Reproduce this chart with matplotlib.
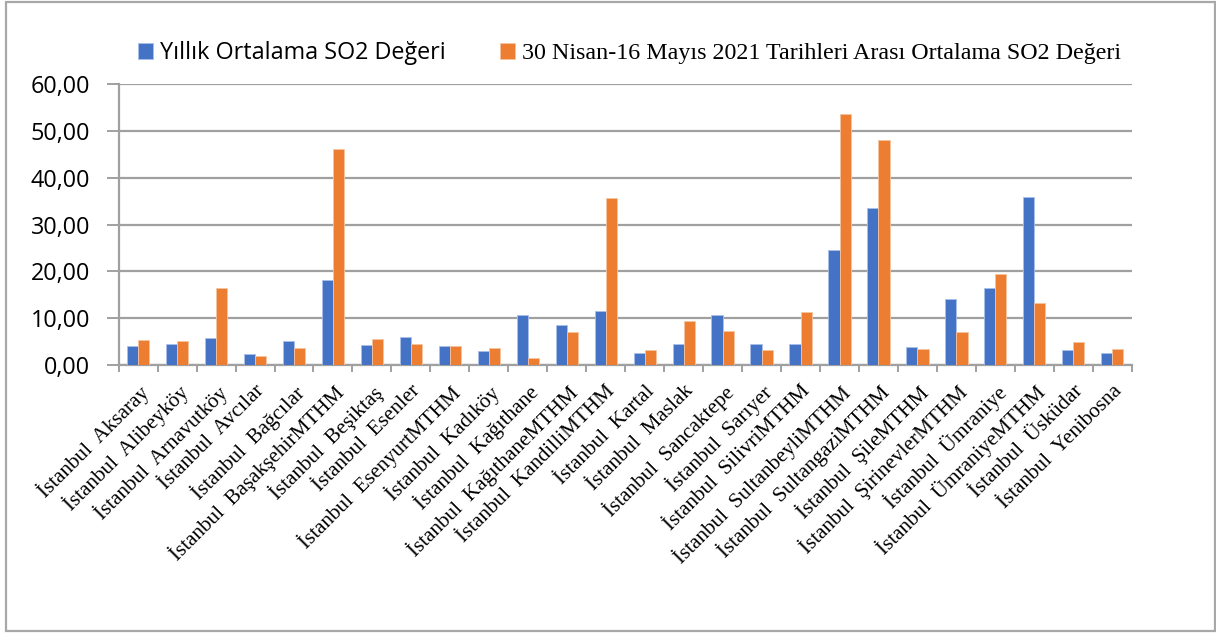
import numpy as np
from matplotlib import pyplot as plt
from matplotlib.patches import Rectangle

stations = [
    "İstanbul  Aksaray", "İstanbul  Alibeyköy", "İstanbul  Arnavutköy",
    "İstanbul  Avcılar", "İstanbul  Bağcılar", "İstanbul  BaşakşehirMTHM",
    "İstanbul  Beşiktaş", "İstanbul  Esenler", "İstanbul  EsenyurtMTHM",
    "İstanbul  Kadıköy", "İstanbul  Kağıthane", "İstanbul  KağıthaneMTHM",
    "İstanbul  KandilliMTHM", "İstanbul  Kartal", "İstanbul  Maslak",
    "İstanbul  Sancaktepe", "İstanbul  Sarıyer", "İstanbul  SilivriMTHM",
    "İstanbul  SultanbeyliMTHM", "İstanbul  SultangaziMTHM", "İstanbul  ŞileMTHM",
    "İstanbul  ŞirinevlerMTHM", "İstanbul  Ümraniye", "İstanbul  ÜmraniyeMTHM",
    "İstanbul  Üsküdar", "İstanbul  Yenibosna",
]

yearly_so2 = [4.06, 4.50, 5.84, 2.42, 5.20, 18.10, 4.20, 5.99, 4.06, 3.06,
              10.70, 8.48, 11.48, 2.50, 4.49, 10.62, 4.49, 4.56, 24.66, 33.57,
              3.85, 14.11, 16.46, 36.00, 3.14, 2.64]

period_so2 = [5.35, 5.13, 16.50, 1.92, 3.56, 46.10, 5.63, 4.56, 4.06, 3.56,
              1.43, 7.06, 35.70, 3.14, 9.34, 7.27, 3.14, 11.26, 53.60, 48.04,
              3.42, 7.13, 19.53, 13.26, 4.92, 3.35]

yearly_label = "Yıllık Ortalama SO2 Değeri"
period_label = "30 Nisan-16 Mayıs 2021 Tarihleri Arası Ortalama SO2 Değeri"

blue = "#4472C4"
orange = "#ED7D31"
axis_gray = "#a0a0a0"

fig = plt.figure(figsize=(12.16, 6.34), dpi=100)
ax = fig.add_axes([0.0976, 0.4243, 0.8331, 0.4427])

x = np.arange(len(stations))
w = 1 / 3.5
b1 = ax.bar(x - w / 2, yearly_so2, w, color=blue, edgecolor="#a9c0ea",
            linewidth=0.6, label=yearly_label, zorder=3)
b2 = ax.bar(x + w / 2, period_so2, w, color=orange, edgecolor="#f6c3a0",
            linewidth=0.6, label=period_label, zorder=3)

ax.set_xlim(-0.5, len(stations) - 0.5)
ax.set_ylim(0, 60)
ax.set_yticks(np.arange(0, 61, 10))
ax.set_yticklabels([f"{v:.2f}".replace(".", ",") for v in np.arange(0, 61, 10)],
                   fontfamily="Open Sans", fontsize=16.8)
ax.grid(axis="y", color=axis_gray, linewidth=1.6, zorder=0)
ax.tick_params(axis="y", length=8.5, width=1.4, color=axis_gray, pad=12)

# labels at category centres, tick marks at category boundaries
ax.set_xticks(x)
ax.set_xticklabels(stations, rotation=45, ha="right", va="top",
                   rotation_mode="anchor", fontfamily="Liberation Serif",
                   fontsize=15.2)
ax.tick_params(axis="x", which="major", length=0, pad=12)
ax.set_xticks(np.arange(-0.5, len(stations), 1), minor=True)
ax.tick_params(axis="x", which="minor", length=5, width=1.4, color=axis_gray)

for side in ["top", "right"]:
    ax.spines[side].set_visible(False)
for side in ["left", "bottom"]:
    ax.spines[side].set_color(axis_gray)
    ax.spines[side].set_linewidth(1.6)

leg = fig.legend(handles=[b1, b2], loc="center", bbox_to_anchor=(0.5177, 0.916),
                 ncol=2, frameon=False, handlelength=0.64, handleheight=0.64,
                 handletextpad=0.3, columnspacing=2.3, fontsize=17)
texts = leg.get_texts()
texts[0].set_fontfamily("Open Sans")
texts[0].set_fontsize(16.8)
texts[1].set_fontfamily("Liberation Serif")
texts[1].set_fontsize(17.3)

# outer chart border
fig.patches.append(Rectangle((6 / 1216, 3 / 634), 1209 / 1216, 629 / 634,
                             transform=fig.transFigure, fill=False,
                             edgecolor="#a8a8a8", linewidth=1.6))

plt.savefig("out.png", dpi=100)
